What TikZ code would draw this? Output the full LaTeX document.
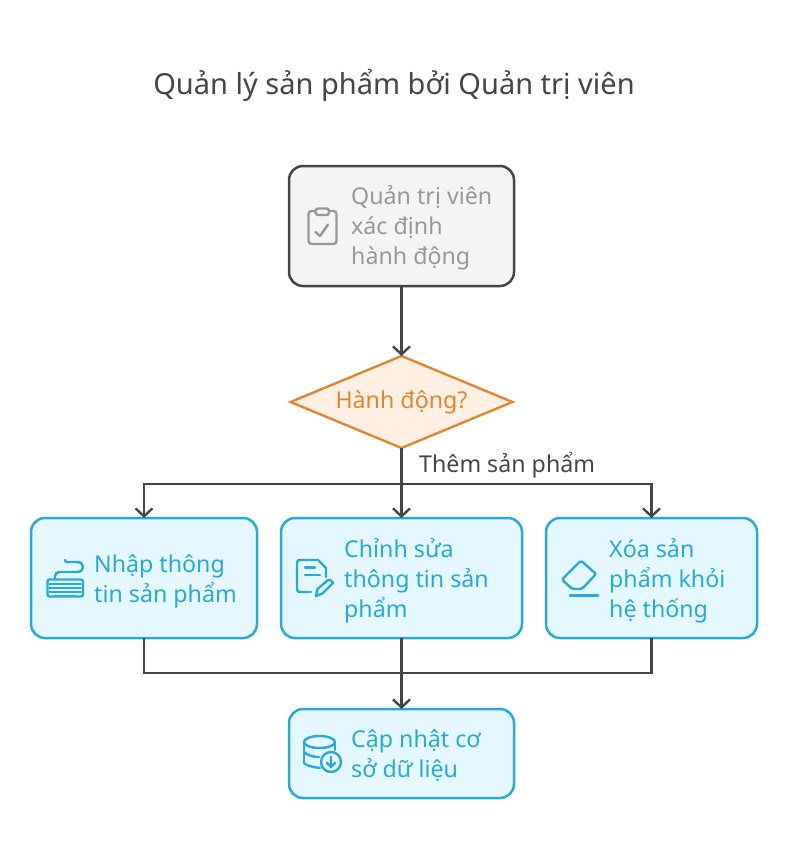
\documentclass[tikz,border=0pt]{standalone}
\usepackage{fontspec}
\setmainfont{Noto Sans}
\usetikzlibrary{shapes.geometric,arrows.meta}
\definecolor{inkgray}{HTML}{454545}
\definecolor{palegray}{HTML}{F4F4F4}
\definecolor{mutedgray}{HTML}{989898}
\definecolor{skyline}{HTML}{26A9DB}
\definecolor{skyfill}{HTML}{E6F8FF}
\definecolor{amberline}{HTML}{E2862F}
\definecolor{amberfill}{HTML}{FFF0E3}
\tikzset{>={Straight Barb[length=8pt,width=17pt,line width=2.4pt]}}
\tikzset{
    box/.style={rectangle,rounded corners=14pt,line width=2.5pt,inner sep=0pt,outer sep=0pt,minimum height=120pt},
    skybox/.style={box,draw=skyline,fill=skyfill},
    boxtext/.style={anchor=west,align=left,inner sep=0pt,font=\fontsize{23.2}{30}\selectfont},
    link/.style={draw=inkgray,line width=2.4pt},
    icon/.style={line width=2.4pt,line cap=round,line join=round}
}
\begin{document}
\begin{tikzpicture}[x=1pt,y=-1pt]
    \useasboundingbox (0,0) rectangle (788,860);
    \node [text=inkgray,inner sep=0pt,font=\fontsize{29}{34}\selectfont] (title) at (394,85.5) {Quản lý sản phẩm bởi Quản trị viên};

    \node [box,draw=inkgray,fill=palegray,minimum width=225pt] (define) at (401.5,226) {};
    \node [diamond,aspect=2.41,draw=amberline,fill=amberfill,line width=2.4pt,inner sep=0pt,outer sep=0pt,minimum width=222pt,minimum height=92pt,text=amberline,font=\fontsize{23.2}{30}\selectfont] (choice) at (401.5,402) {\raisebox{-1.5pt}{Hành động?}};
    \node [skybox,minimum width=226pt] (enter) at (144,578) {};
    \node [skybox,minimum width=241pt] (edit) at (401.5,578) {};
    \node [skybox,minimum width=211pt] (remove) at (651.5,578) {};
    \node [skybox,minimum width=225pt,minimum height=89pt] (update) at (401.5,753.5) {};

    \node [boxtext,text=mutedgray] (definetext) at (351,228) {Quản trị viên\\xác định\\hành động};
    \node [boxtext,text=skyline] (entertext) at (94,581) {Nhập thông\\tin sản phẩm};
    \node [boxtext,text=skyline] (edittext) at (344,581) {Chỉnh sửa\\thông tin sản\\phẩm};
    \node [boxtext,text=skyline] (removetext) at (609,581) {Xóa sản\\phẩm khỏi\\hệ thống};
    \node [boxtext,text=skyline] (updatetext) at (351,755.5) {Cập nhật cơ\\sở dữ liệu};
    \node [boxtext,text=inkgray] (addtext) at (419,465) {Thêm sản phẩm};

    \coordinate (split) at (401.5,484);
    \coordinate (merge) at (401.5,673);
    \draw [link,->] (define.south) -- (choice.north);
    \draw [link] (choice.south) -- (split);
    \draw [link,->] (split) -| (enter.north);
    \draw [link,->] (split) -- (edit.north);
    \draw [link,->] (split) -| (remove.north);
    \draw [link] (enter.south) |- (merge);
    \draw [link] (remove.south) |- (merge);
    \draw [link] (edit.south) -- (merge);
    \draw [link,->] (merge) -- (update.north);

    \draw [icon,draw=mutedgray,rounded corners=3pt] (315,211) -- (308.5,211) -- (308.5,244) -- (336.5,244) -- (336.5,211) -- (329,211);
    \draw [icon,draw=mutedgray,rounded corners=2.5pt] (315.5,208.5) rectangle (329,215);
    \draw [icon,draw=mutedgray] (315.5,232) -- (320,236) -- (328,224.5);

    \begin{scope}[icon,draw=skyline]
        \draw [rounded corners=2pt] (47.5,579.5) rectangle (83,596.5);
        \draw (55,579) -- (55,576) .. controls (55,573) and (57,572) .. (60,572) -- (77,572) .. controls (85,572) and (85,562) .. (77,562) -- (67,562) .. controls (65.5,562) and (65,561) .. (65,560);
        \draw [line width=1.8pt] (49,584) -- (81,584) (49,588) -- (81,588) (49,592) -- (81,592);
        \draw [line width=1.8pt] (54,595.5) -- (76,595.5);

        \draw (311,592) -- (300,592) .. controls (298,592) and (297,591) .. (297,589) -- (297,563) .. controls (297,561) and (298,560) .. (300,560) -- (318,560) -- (326,568) -- (326,577);
        \draw (305,567.5) -- (315,567.5) (305,575) -- (320,575);
        \draw (316,596) -- (317.5,589) -- (328,580) .. controls (330,579) and (332,581) .. (333,583) -- (322.5,593.5) -- cycle;

        \draw [rounded corners=2pt] (562,579.5) -- (581,560.5) -- (596,574) -- (582,589) -- (572,589) -- cycle;
        \draw (570,595.5) -- (598,595.5);

        \draw (304,742) -- (304,763) (335,742) -- (335,750);
        \draw (319.5,742) ellipse [x radius=15.5pt,y radius=6pt];
        \draw (304,752) .. controls (307,755) and (313,757) .. (319,757);
        \draw (304,763) .. controls (307,766) and (313,767) .. (320,768);
        \draw (331,762) circle [radius=10pt];
        \draw (331,757) -- (331,767) (327,763) -- (331,767) -- (335,763);
    \end{scope}
\end{tikzpicture}
\end{document}
